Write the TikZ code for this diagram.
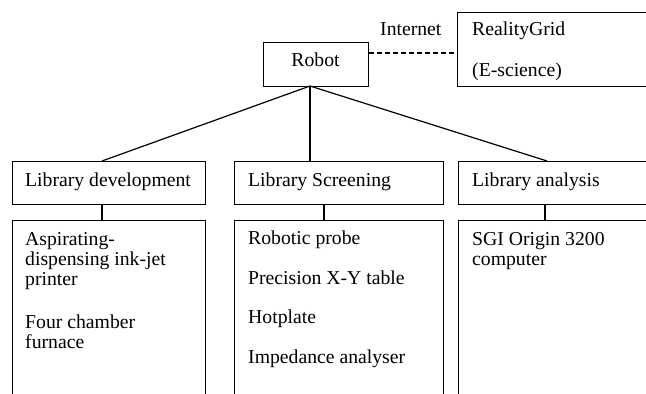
\documentclass[tikz,border=0pt]{standalone}
\usepackage{fontspec}
\setmainfont{Liberation Serif}
\begin{document}
\begin{tikzpicture}[x=1pt,y=-1pt,
  box/.style={draw,line width=1.2pt,rectangle,inner sep=0pt,anchor=north west},
  lbl/.style={anchor=base west,inner sep=0pt,font=\fontsize{19.7}{20}\selectfont},
  link/.style={line width=1.2pt}]
\useasboundingbox (0,0) rectangle (646,394);
\clip (0,0) rectangle (646,394);
% boxes
\node[box,minimum width=105pt,minimum height=44pt] (robot) at (263,42) {};
\node[box,minimum width=200pt,minimum height=74pt] (rg) at (457,12) {};
\node[box,minimum width=193pt,minimum height=43pt] (dev) at (12,161) {};
\node[box,minimum width=209pt,minimum height=43pt] (scr) at (234,161) {};
\node[box,minimum width=200pt,minimum height=43pt] (ana) at (458,161) {};
\node[box,minimum width=193pt,minimum height=200pt] (devl) at (12,220) {};
\node[box,minimum width=209pt,minimum height=200pt] (scrl) at (234,220) {};
\node[box,minimum width=200pt,minimum height=200pt] (anal) at (458,220) {};
% texts
\node[lbl,anchor=base] (robott) at (315.5,66.5) {Robot};
\node[lbl] (inet) at (380,35) {Internet};
\node[lbl] (rg1) at (472,35) {RealityGrid};
\node[lbl] (rg2) at (472,76) {(E-science)};
\node[lbl] (devt) at (25,186) {Library development};
\node[lbl] (scrt) at (248,186) {Library Screening};
\node[lbl] (anat) at (472,186) {Library analysis};
\node[lbl] (d1) at (25,245) {Aspirating-};
\node[lbl] (d2) at (25,265) {dispensing ink-jet};
\node[lbl] (d3) at (25,285) {printer};
\node[lbl] (d4) at (25,328) {Four chamber};
\node[lbl] (d5) at (25,348) {furnace};
\node[lbl] (s1) at (248,244) {Robotic probe};
\node[lbl] (s2) at (248,284) {Precision X-Y table};
\node[lbl] (s3) at (248,323) {Hotplate};
\node[lbl] (s4) at (248,363) {Impedance analyser};
\node[lbl] (a1) at (472,245) {SGI Origin 3200};
\node[lbl] (a2) at (472,265) {computer};
% connectors
\coordinate (rb) at (310,86);
\draw[link,dashed,dash pattern=on 5pt off 3pt] (robot.east |- 0,53) -- (rg.west |- 0,53);
\draw[link] (rb) -- (dev.north -| 102,0);
\draw[link] (rb) -- (scr.north -| rb);
\draw[link] (rb) -- (ana.north -| 547,0);
\draw[link] (dev.south -| 102,0) -- (devl.north -| 102,0);
\draw[link] (scr.south -| 324,0) -- (scrl.north -| 324,0);
\draw[link] (ana.south -| 545,0) -- (anal.north -| 545,0);
\end{tikzpicture}
\end{document}
